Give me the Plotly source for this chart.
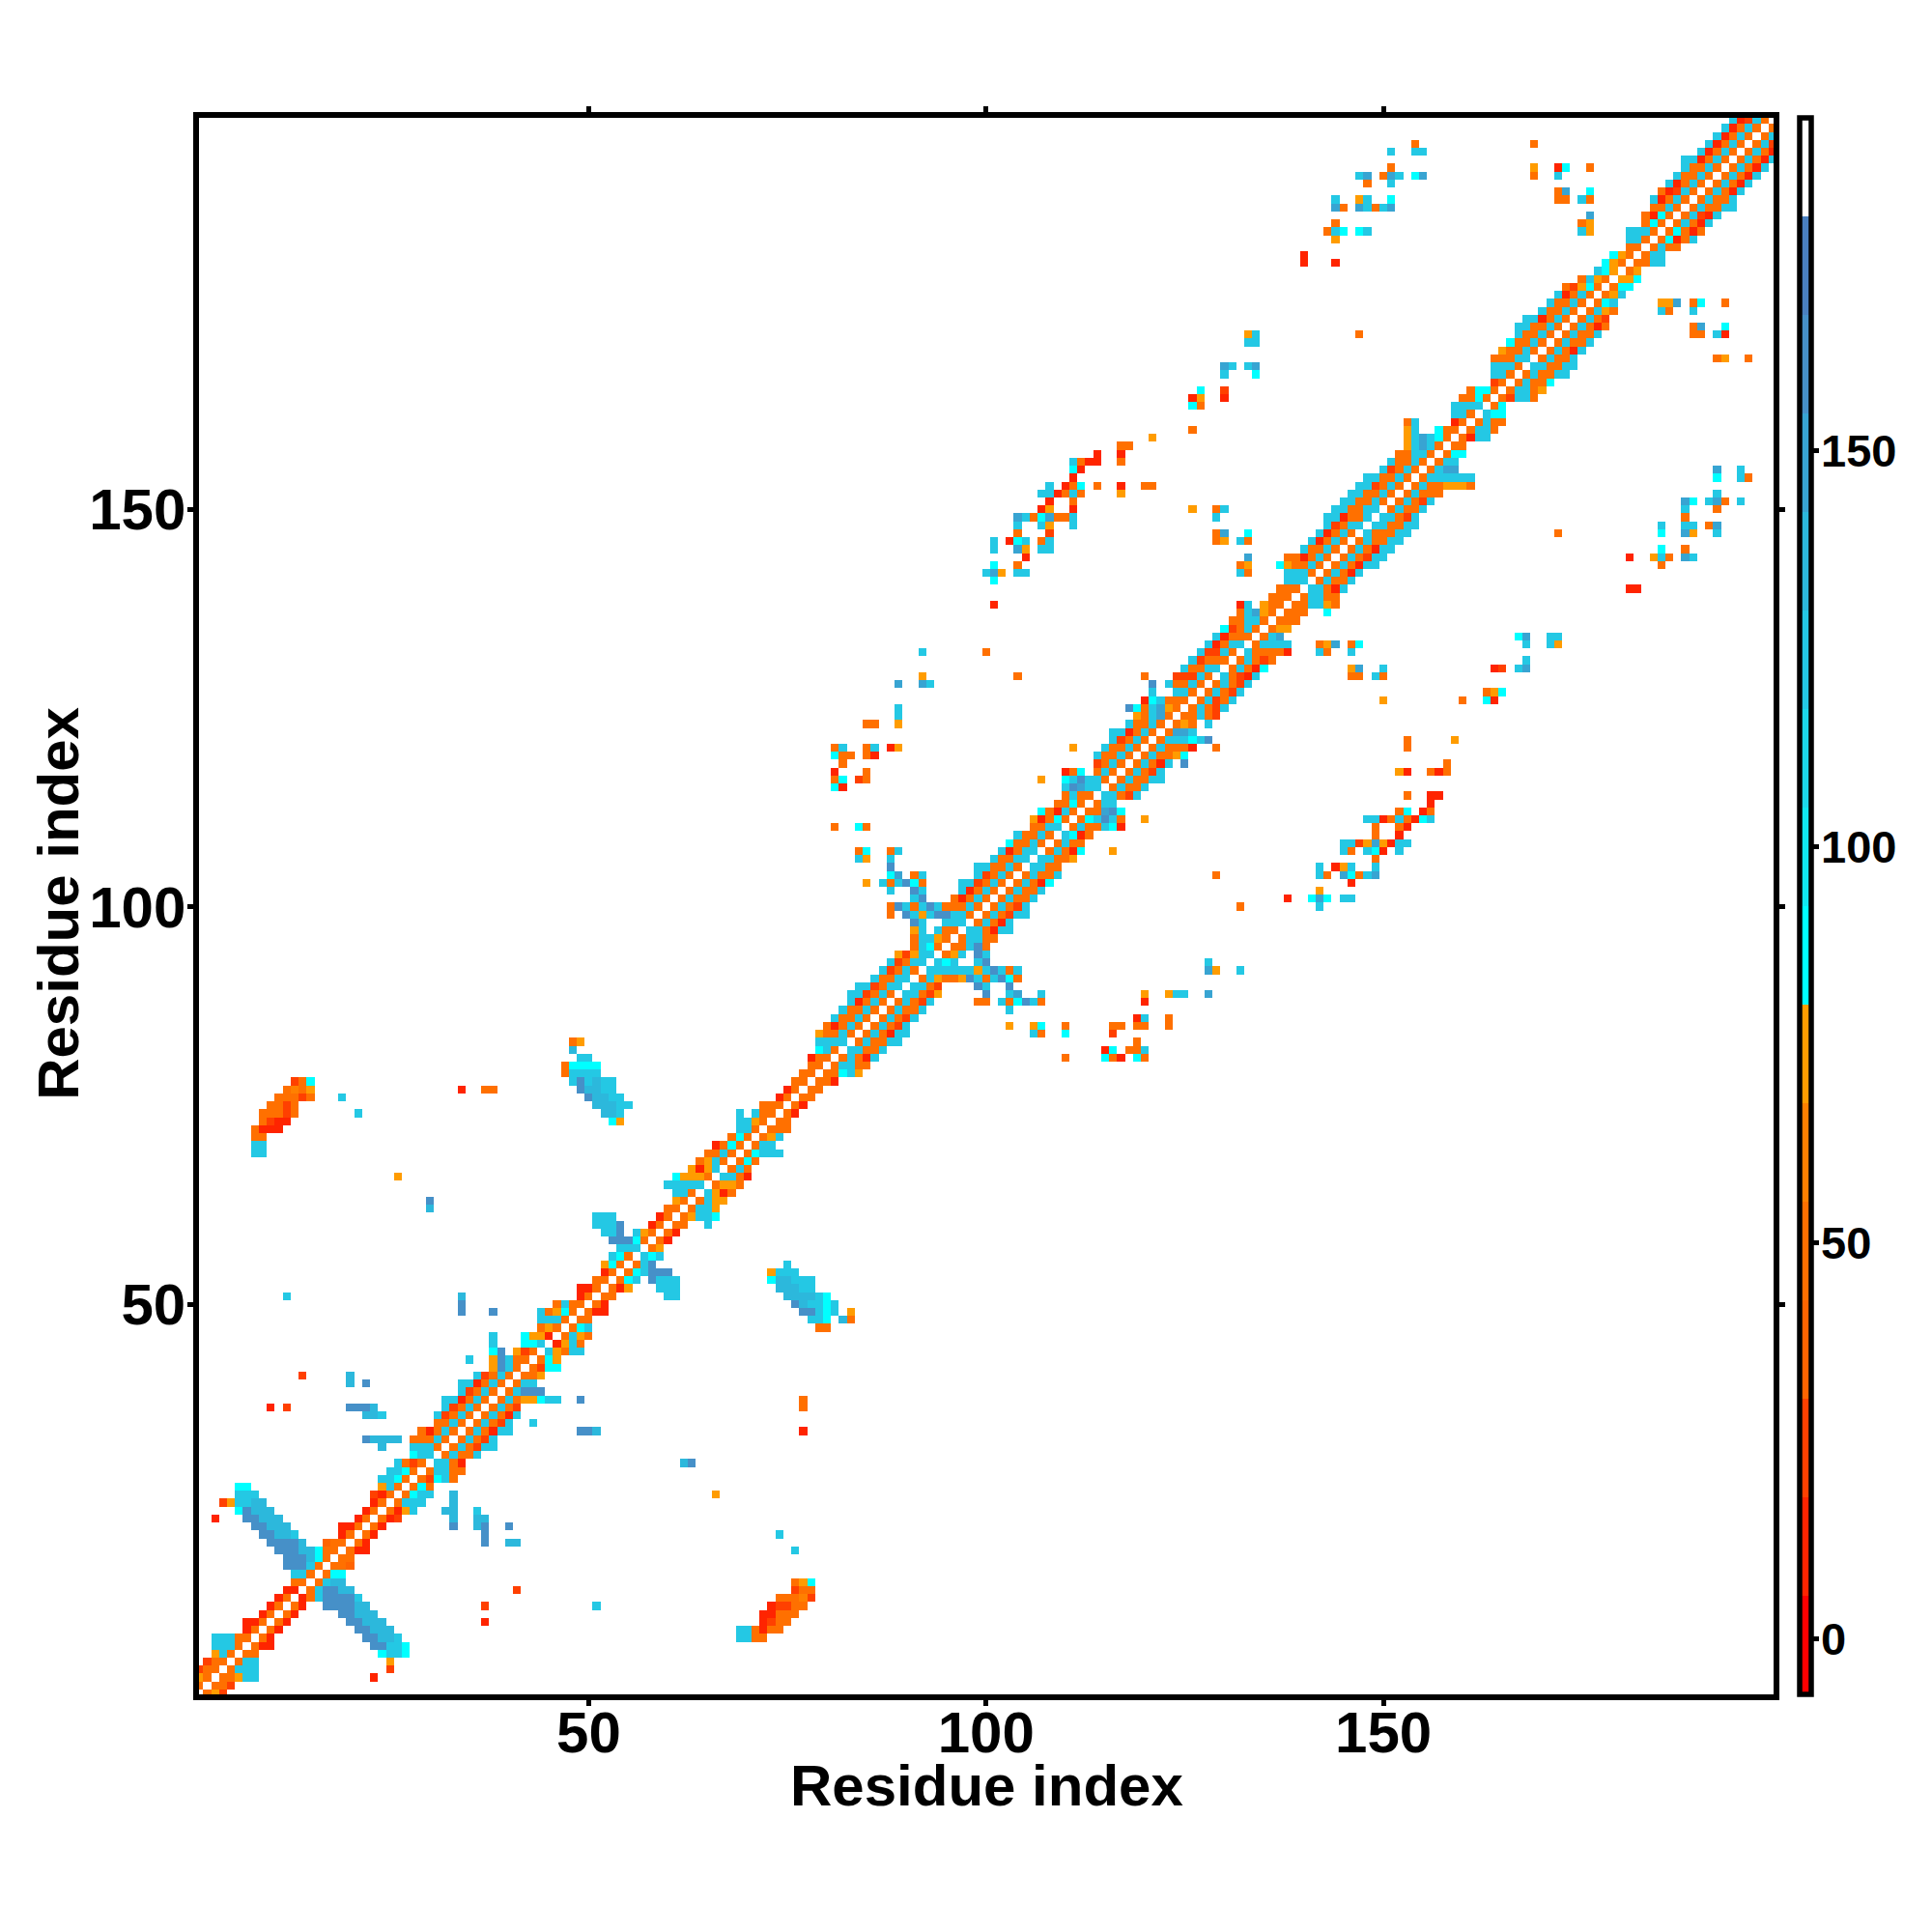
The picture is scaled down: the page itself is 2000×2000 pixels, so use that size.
import plotly.graph_objects as go

## residue count and axis ticks ##
n_res = 199
axis_ticks = [50, 100, 150]
bar_ticks = [0, 50, 100, 150]
title_text = "Residue index"

## colour bands of the bar, bottom to top, and the range they cover ##
z_low = -6.95
z_high = 191.97
band_colors = ["#ff0000", "#ff2400", "#ff4000", "#ff6400", "#ff7000", "#ff8000", "#ff9c00",
               "#00ffff", "#10e8f0", "#1cd8ea", "#24c8e4", "#2cb8dc", "#38a4d2", "#4690c8", "#4a80c0",
               "#ffffff"]

_ = None

## near[k] holds residue k+1 against residues k+2, k+3, ... ##
near = [
    [48,73,24],[48,48,24],[48,48,73,123,123],[48,123,123,123],[48,123,123],[48,48],[48,11,11],[48,11],[48,11],[48,11],
    [48,11],[48,11],[11,48,123],[48,123],[48,123,136,136],[48,86,86],[48,48,36],[48,48],[48,11,11],[48,11],
    [48,11],[48,11],[48,11,24],[48,11,73,123],[48,123,123,123],[48,86,123,123],[48,86,48],[48,24,86,123,48],[48,123,123,48,48],[123,123,48,11],
    [48,123,48,48,123],[48,123,48,24,123,123],[48,123,48,24,123],[48,123,48,11,123,123],[48,123,48,24,123],[48,123,48,11,123],[48,123,48,24],[48,123,48,73,73,86,123,123],[48,123,161,161,161],[48,123,123],
    [48,48,73],[48,24,86,86],[48,86,73],[123,73,48,123,123],[11,73,123,48],[48,123,73,48],[48,86,123],[48,48],[48,11,11],[48,11],
    [48,48],[48,11,73],[48,86,123],[48,86,123,161,161,161],[48,123,161],[123,86,123],[48,73],[48,11],[48,11],[48,48,_,_,123],
    [48,73,123,123,86],[48,123,123,73],[48,123,73,73],[123,73,11,48],[48,73,73,48],[123,123,48,11],[48,123,48],[48,86,48],[48,86,123,123,123],[48,123,123],
    [48,73,123],[48,48,48],[48,48],[48,11],[48,11],[48,48],[48,48],[48,48,11],[48,48,86,123,73],[48,123,123,48,48],
    [48,123,48,11,123],[123,123,48,48,123],[48,123,48,48,123,123],[48,123,48,11,123,123],[48,123,48,24,123],[48,123,48,24,123],[48,123,48,48,123],[48,123,48,24,123],[123,123,48,24,73],[123,123,48,24],
    [48,123,73,48,48,73,161,123,48,123,161,86,48],[123,123,123,123,123,123,73,123,161,123,48,123],[123,86,123,_,_,123,161],[48,73,123,_,161,123],[48,48,123,161,48],[48,123,123,48,48],[123,123,48,11,123,123],[48,123,48,11,123],[48,123,48,24,123,123],[48,123,48,24,123],
    [48,123,48,48,123],[48,123,48,48,123],[48,123,48,11,86],[48,123,48,48,123],[123,123,48,48],[123,123,48,48,73],[48,123,48,11,86],[48,123,48,48],[123,86,11,48],[48,123,48,48,123,86,11],
    [48,86,123,161,123,48],[48,48,148,161,86],[48,123,123],[123,123,48,24,123],[48,123,48,48,123],[48,123,48,48,123,123],[48,123,48,24,123],[48,123,48,11,123,_,161],[48,123,48,48,73,86],[48,123,48,48,48,11],
    [48,123,123,123,86,123,161],[48,148,148,123],[48,73,48,_,123],[48,48,123,48,24],[48,123,48,24,123],[48,123,24,48,123],[48,123,48,24,123],[48,123,48,24,123],[123,48,24,11,123],[48,123,48,11,86],
    [48,123,48,24,48],[123,48,48,48,48,11],[48,123,123,123,123],[48,123,148],[48,73,73],[48,48,48],[48,48,48],[48,48,123,123,73,48],[48,123,123,48,48],[123,123,48,11,123],
    [48,123,48,48,123],[48,123,48,11,123],[48,123,48,11,123,123],[48,123,48,24,123,123],[48,123,48,11,123,123],[48,123,48,48,123,123],[123,48,48,48,123,123],[123,123,48,48,123,123],[123,123,48,24,123],[48,123,48,48,123],
    [48,123,48,24,123],[48,123,48,48,48],[48,123,48,48,73,73,73,48],[48,123,123,123,123,123,123],[48,123,148,148],[48,123,123],[48,86,86],[48,48],[48,11,123,123],[48,123,123,48],
    [48,123,48,48],[123,86,86],[48,86],[48,24,123,123,48],[48,123,123,48,73],[48,123,48,48,86],[48,123,48,48,123,123],[123,123,48,48,123,123],[48,123,48,48,123],[48,123,48,11,123],
    [48,123,48,48,123],[48,123,48,48,123],[48,123,48,11,48],[48,123,48,24],[48,123,73,48],[48,86,123],[48,73,123],[48,86,86],[73,73,86],[48,73],
    [48,48,123,123],[48,123,123],[48,123,48,48],[48,86,11,48,123],[48,86,48,11,48],[48,123,48,11,123],[48,123,24,11,123],[48,123,48,48,123,123],[48,123,48,48,123],[48,123,48,11,123],
    [48,123,48,11,123],[48,123,48,11,123],[48,123,48,11,123],[48,123,48,11,123],[48,123,48,11],[48,123,24],[48,123],[48],
]

## far contacts: (residue, first partner, values against following partners) ##
hairpin_1 = [
    (3,23,[11]),(4,25,[24]),(5,25,[73]),(6,24,[86,123,123,86]),(7,23,[161,161,123,123,86]),
    (8,22,[161,161,136,136,123]),(9,21,[161,161,136,136,136]),(10,20,[161,161,136,136,136]),
    (11,19,[161,161,136,136,136]),(12,17,[161,161,161,161,136,136]),(13,17,[161,161,161,161,123]),
    (14,17,[161,161,136,136]),
]
tip_contacts = [
    (8,69,[123,123,48,48]),(9,69,[123,123,48,11,48,48]),(10,72,[11,24,48,48]),(11,72,[11,11,48,48,48]),
    (12,73,[11,24,24,48,48]),(13,74,[48,48,48,61,24]),(14,76,[24,48,48]),(15,76,[48,73,86]),
    (10,37,[11]),(12,37,[24]),(12,51,[123]),(14,41,[24]),(19,76,[123]),(21,74,[123]),(26,66,[73]),
    (30,62,[136,161]),(34,77,[11]),(37,77,[48]),(38,77,[48]),
]
low_contacts = [
    (20,37,[161]),(20,40,[136,136]),(21,37,[161]),(22,33,[161]),(22,36,[136,161]),(22,40,[161]),
    (23,33,[136]),(23,36,[136,136]),(24,32,[136,136]),(24,36,[123]),(25,33,[136]),(26,33,[136]),
    (35,43,[123]),(34,49,[161,161,136]),(38,49,[161]),
]
block_contacts = [
    (47,79,[48,48]),(48,78,[123,123,86,_,136,48]),(49,77,[161,161,123,86,123,_,73]),
    (50,76,[161,136,123,123,86,123]),(51,75,[136,136,136,136,123,86]),(52,74,[136,136,136,123,123]),
    (53,73,[86,136,136,123,123,123]),(54,73,[73,123,123,123]),(55,75,[123]),
    (51,60,[123,123]),(52,59,[123,123,123]),(53,58,[161,123,123,123]),
]
mid_contacts = [
    (81,110,[48]),(81,115,[86,48,11]),(81,119,[86,48]),(82,115,[11,86]),(82,118,[48,48,123]),(83,119,[48]),
    (84,106,[123,48]),(84,110,[86]),(84,116,[24]),(85,103,[73]),(85,106,[73,86]),(85,110,[48]),
    (85,116,[48,48]),(85,119,[48,48]),(85,123,[48]),(86,119,[11,123]),(86,123,[48]),(87,103,[123]),
    (88,99,[48,48]),(88,102,[123,48,86,161,123,48]),(88,120,[11]),(89,100,[161]),(89,103,[123,148]),
    (89,107,[123]),(89,120,[73]),(89,123,[73,123,123]),(89,128,[148]),(90,99,[161,123]),(90,103,[161]),
    (92,128,[148,73]),(92,132,[123]),(93,128,[123]),
]
arc_contacts = [
    (100,132,[48]),(100,142,[123]),(101,138,[11]),(101,141,[86,148,86]),(101,145,[123,123]),(102,142,[73]),
    (103,146,[11]),(104,129,[48]),(104,142,[123,48]),(104,145,[148,86,48,123,148]),(105,142,[123]),
    (105,144,[11,73,123]),(105,149,[123]),(106,149,[48]),(107,116,[73]),(107,145,[123,48]),
    (107,148,[123,86,11]),(107,152,[123]),(108,145,[123,123,24,73,148,73,11,123,123]),(109,149,[48]),
    (109,152,[11]),(110,149,[48]),(110,152,[48,11]),(111,120,[73]),(111,148,[123,123,11,48,123,48,11,86,123]),
    (112,152,[48,86]),(112,155,[11,48]),(113,156,[11]),(114,153,[48]),(114,156,[11,11]),(117,152,[73,11]),
    (117,156,[48,11,48]),(118,158,[48]),(120,129,[48]),(120,153,[48]),(121,153,[48]),(121,159,[73]),
    (126,150,[73]),(126,160,[48]),(126,163,[86,11]),(127,163,[48,73,86]),
]
high_contacts = [
    (129,146,[48,48]),(129,149,[123,48]),(130,146,[73,148]),(130,150,[123]),(130,164,[11,24]),(130,167,[123,148]),
    (131,168,[123]),(132,142,[123,48]),(132,146,[123]),(133,142,[48,73,148]),(133,146,[48,86]),(133,168,[123]),
    (133,171,[123,73]),(134,167,[86,148]),(134,171,[123,123]),(137,143,[86]),(140,181,[11,11]),(143,185,[48]),
    (144,181,[11]),(144,184,[73,123,48]),(144,188,[148,123]),(145,185,[86]),(145,188,[48]),(147,172,[48]),
    (147,185,[86]),(147,188,[148,73]),(147,192,[123]),(148,185,[123]),(148,188,[123,123]),(148,191,[48,148]),
    (149,188,[48]),(150,188,[123]),(150,192,[48]),(151,188,[148,86]),(151,191,[123,148,48]),(151,195,[123]),
    (152,192,[123]),(154,192,[86]),(154,195,[123,48]),(155,192,[148]),(155,195,[123]),(169,192,[48,73]),
    (169,196,[48]),(172,189,[48,48]),(172,192,[123,11]),(173,189,[48,148]),(173,193,[86]),(175,185,[123,48]),
    (175,189,[123]),(176,185,[73,73,148]),(176,189,[48,86]),(176,193,[48]),
]


def build_map():
    ## the map is symmetric, every value goes in both triangles ##
    z = [[None] * n_res for k in range(n_res)]
    for k, row in enumerate(near):
        for m, val in enumerate(row):
            z[k][k + m + 1] = val
            z[k + m + 1][k] = val
    for runs in [hairpin_1, tip_contacts, low_contacts, block_contacts, mid_contacts, arc_contacts, high_contacts]:
        for res, first, vals in runs:
            for m, val in enumerate(vals):
                if val is None:
                    continue
                z[res - 1][first + m - 1] = val
                z[first + m - 1][res - 1] = val
    return z


def band_scale():
    ## hard edges between bands ##
    scale = []
    for k, col in enumerate(band_colors):
        scale.append([k / len(band_colors), col])
        scale.append([(k + 1) / len(band_colors), col])
    return scale


residues = list(range(1, n_res + 1))
label_font = dict(family="Liberation Sans", size=60, color="black", weight="bold")
bar_font = dict(family="Liberation Sans", size=47, color="black", weight="bold")

heat = go.Heatmap(
    x=residues, y=residues, z=build_map(),
    zmin=z_low, zmax=z_high, colorscale=band_scale(), hoverongaps=False,
    colorbar=dict(
        x=1.0163, xanchor="left", xpad=0, y=0, yanchor="bottom", ypad=0, len=1, lenmode="fraction",
        thickness=12, outlinewidth=5.5, outlinecolor="black", borderwidth=0,
        tickmode="array", tickvals=bar_ticks, ticks="outside", ticklen=6, tickwidth=5, tickcolor="black",
        showticklabels=False,
    ),
)

axis_style = dict(
    tickmode="array", tickvals=axis_ticks, ticks="outside", ticklen=6, tickwidth=5, tickcolor="black",
    showline=True, linewidth=5.5, linecolor="black", mirror="ticks", showgrid=False, zeroline=False,
    tickfont=label_font,
)

## bar labels and axis titles sit closer than plotly allows, so they are annotations ##
bar_labels = [
    dict(text=str(v), x=1.0294, xref="paper", xanchor="left", y=(v - z_low) / (z_high - z_low), yref="paper",
         yanchor="middle", showarrow=False, font=bar_font, borderpad=0)
    for v in bar_ticks
]
x_title = dict(text=title_text, x=0.5002, xref="paper", xanchor="center", y=-0.0582, yref="paper",
               yanchor="middle", showarrow=False, font=label_font)
y_title = dict(text=title_text, x=-0.0892, xref="paper", xanchor="center", y=0.5017, yref="paper",
               yanchor="middle", showarrow=False, font=label_font, textangle=-90)

layout = go.Layout(
    width=2000, height=2000, autosize=False,
    margin=dict(l=197.5, r=172, t=113.5, b=254, pad=0),
    paper_bgcolor="white", plot_bgcolor="white",
    xaxis=dict(range=[0.97, 199.09], ticklabelstandoff=-24, **axis_style),
    yaxis=dict(range=[0.91, 199.27], ticklabelstandoff=-10, **axis_style),
    annotations=bar_labels + [x_title, y_title],
)

fig = go.Figure(data=[heat], layout=layout)
fig.write_html("out.html")
